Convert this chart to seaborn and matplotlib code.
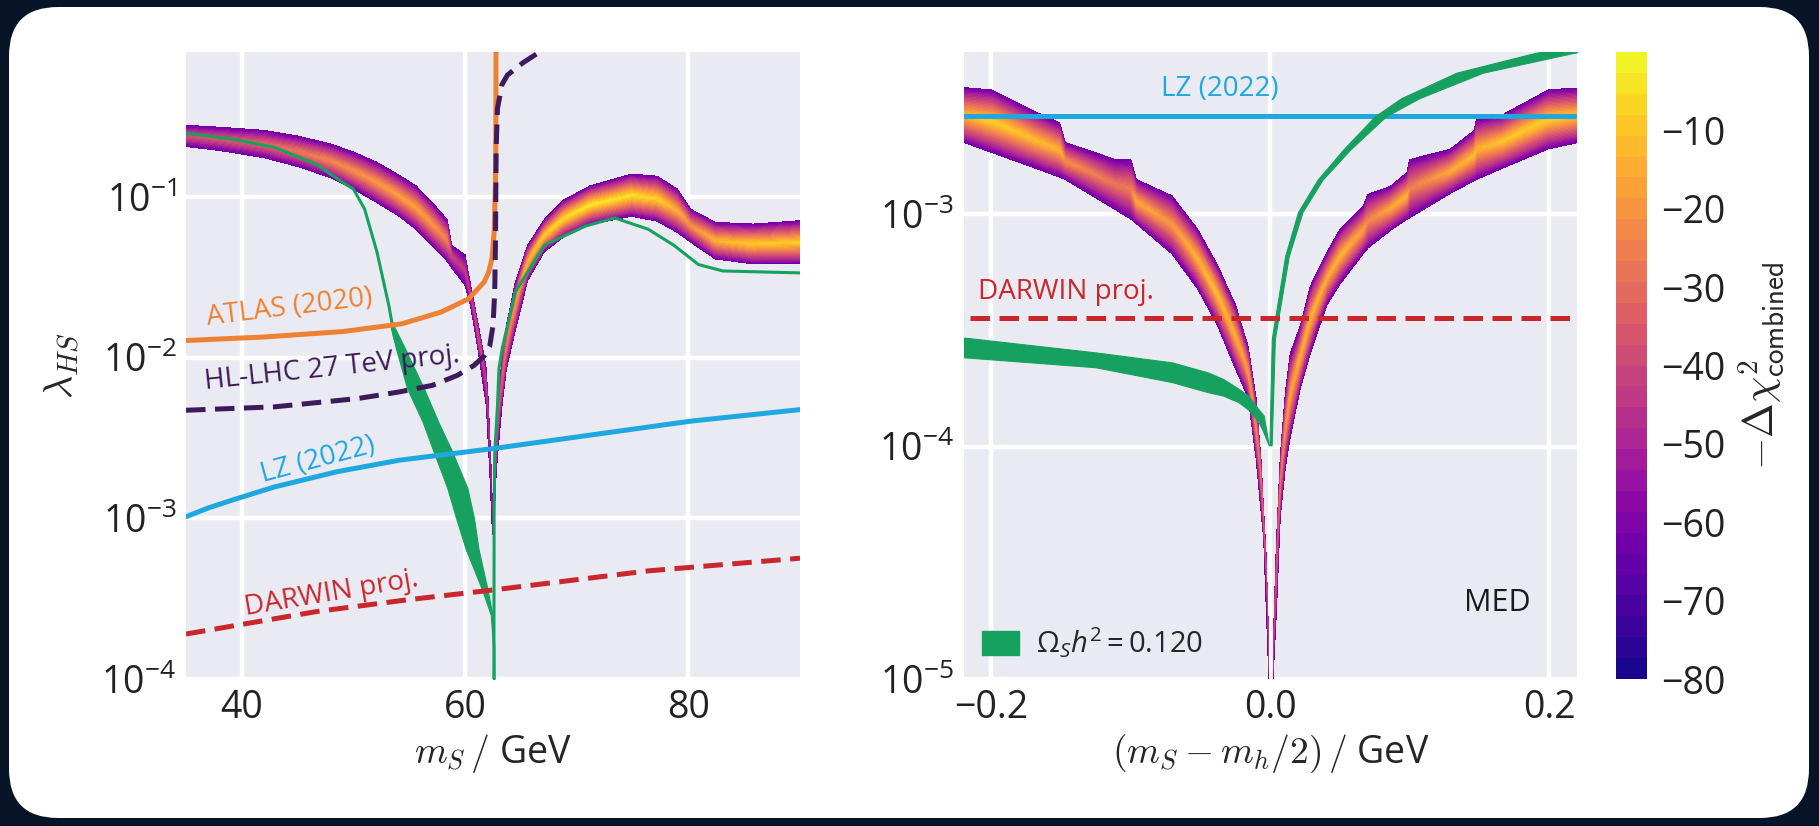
import numpy as np
import matplotlib
matplotlib.use("Agg")
import matplotlib.pyplot as plt
from matplotlib.patches import FancyBboxPatch, Patch
from matplotlib.ticker import LogLocator, NullLocator
import seaborn as sns

# ---------------- data (log10 of lambda_HS where noted) ----------------
# left panel: coloured fit band, below and above the Higgs resonance
bandA_x = [35, 38, 42, 45, 48, 50, 52, 54, 55.6, 57, 58.4, 58.8, 60.0, 60.5, 61.2, 61.9, 62.2, 62.45]
bandA_hi = [-0.553, -0.565, -0.585, -0.62, -0.67, -0.72, -0.78, -0.86, -0.93, -1.03, -1.14, -1.30, -1.36,
            -1.55, -1.80, -2.07, -2.45, -2.95]
bandA_lo = [-0.685, -0.71, -0.755, -0.81, -0.88, -0.95, -1.03, -1.115, -1.20, -1.30, -1.40, -1.44, -1.55,
            -1.68, -1.97, -2.30, -2.70, -3.10]
bandA_peak = [-38, -36, -32, -28, -24, -22, -20, -18, -18, -20, -25, -42, -45, -45, -40, -45, -50, -55]

bandB_x = [62.55, 62.8, 63.3, 63.7, 64.5, 65.6, 67.1, 68.8, 71.2, 74.9, 77.2, 79.0, 80.2, 82.4, 85.8, 90.0]
bandB_hi = [-2.95, -2.5, -2.0, -1.80, -1.53, -1.30, -1.14, -1.02, -0.93, -0.857, -0.87, -0.95, -1.075,
            -1.157, -1.168, -1.147]
bandB_lo = [-3.10, -2.7, -2.3, -2.07, -1.83, -1.52, -1.34, -1.25, -1.17, -1.12, -1.15, -1.22, -1.28,
            -1.385, -1.416, -1.416]
bandB_peak = [-50, -45, -35, -28, -22, -14, -9, -6, -4, -5, -8, -15, -22, -14, -9, -9]

# left panel: relic density (thin line, thick sliver, line right of resonance)
relicL_x = [35, 39.2, 42.9, 46.65, 49.26, 50.0, 51.0, 52.1, 53.17, 53.7]
relicL_y = [-0.602, -0.64, -0.69, -0.795, -0.919, -0.95, -1.075, -1.34, -1.675, -1.88]
sliver_y = [-1.80, -1.94, -2.19, -2.40, -2.57, -2.81, -3.00, -3.19, -3.44, -3.60, -3.80, -4.05]
sliver_xl = [53.3, 53.8, 54.8, 56.2, 57.1, 58.4, 59.2, 60.05, 61.5, 62.3, 62.5, 62.52]
sliver_xr = [53.6, 54.6, 56.3, 57.6, 58.75, 60.2, 60.8, 61.2, 62.0, 62.45, 62.62, 62.64]
relicR_x = [62.58, 62.6, 62.65, 62.9, 63.03, 63.33, 64.5, 67.1, 70.8, 73.4, 76.4, 78.7, 80.9, 83.1, 90.0]
relicR_y = [-4.05, -3.0, -2.6, -2.3, -2.07, -1.94, -1.59, -1.30, -1.18, -1.13, -1.20, -1.30, -1.42, -1.46, -1.472]

# left panel: experimental limits
atlas_x = [35, 42.0, 49.06, 54.33, 57.85, 60.3, 61.7, 62.1, 62.4, 62.6, 62.72, 62.75, 62.76, 62.77]
atlas_y = [-1.893, -1.871, -1.837, -1.789, -1.716, -1.634, -1.53, -1.47, -1.385, -1.22, -0.91, -0.70, -0.4, 0.0]
hllhc_x = [35, 42.9, 50.4, 54.1, 57.07, 59.3, 60.8, 61.7, 62.2, 62.5, 62.65, 62.72, 62.75, 62.78, 62.9,
           63.3, 63.8, 65.2, 66.6, 68.0]
hllhc_y = [-2.327, -2.306, -2.254, -2.213, -2.172, -2.11, -2.048, -1.99, -1.93, -1.80, -1.6, -1.3, -1.0,
           -0.7, -0.45, -0.3, -0.24, -0.163, -0.10, -0.05]
lz_x = [35, 37.0, 39.2, 42.9, 48.5, 54.1, 62.6, 69.0, 80.2, 90.0]
lz_y = [-2.99, -2.935, -2.885, -2.805, -2.71, -2.638, -2.565, -2.503, -2.395, -2.323]
darwin_x = [35, 46.7, 54.84, 62.6, 76.4, 90.0]
darwin_y = [-3.72, -3.58, -3.507, -3.445, -3.327, -3.248]

# right panel: fit band, both sides of m_h/2
bandC_x = [-0.22, -0.20, -0.169, -0.151, -0.147, -0.111, -0.100, -0.096, -0.0705, -0.0521, -0.0377,
           -0.0249, -0.0158, -0.0102, -0.0047, -0.001]
bandC_hi = [-2.454, -2.464, -2.557, -2.606, -2.69, -2.764, -2.764, -2.85, -2.92, -3.064, -3.22, -3.39,
            -3.57, -3.79, -4.27, -4.87]
bandC_lo = [-2.69, -2.733, -2.80, -2.84, -2.85, -2.98, -3.02, -3.04, -3.17, -3.32, -3.48, -3.665, -3.79,
            -4.05, -4.40, -5.0]
bandC_peak = [-12, -8, -12, -14, -22, -28, -26, -16, -20, -14, -12, -15, -20, -25, -35, -45]

bandD_x = [0.002, 0.0045, 0.0072, 0.0108, 0.0143, 0.0215, 0.0287, 0.0406, 0.050, 0.0666, 0.070, 0.086,
           0.098, 0.100, 0.129, 0.146, 0.148, 0.167, 0.1995, 0.22]
bandD_hi = [-4.9, -4.4, -4.04, -3.77, -3.6, -3.48, -3.31, -3.164, -3.064, -2.965, -2.914, -2.88, -2.82,
            -2.764, -2.72, -2.64, -2.59, -2.57, -2.464, -2.456]
bandD_lo = [-5.0, -4.7, -4.3, -4.09, -3.96, -3.75, -3.60, -3.39, -3.30, -3.17, -3.145, -3.07, -3.021,
            -3.015, -2.91, -2.856, -2.85, -2.80, -2.718, -2.692]
bandD_peak = [-45, -38, -30, -22, -18, -15, -14, -16, -14, -18, -24, -16, -14, -26, -16, -12, -14, -10,
              -8, -10]

# right panel: relic density
relicC_x = [-0.22, -0.1254, -0.0705, -0.0449, -0.0339, -0.0229, -0.0158, -0.0083, -0.0047, -0.0011]
relicC_hi = [-3.53, -3.594, -3.637, -3.68, -3.708, -3.75, -3.78, -3.84, -3.866, -3.994]
relicC_lo = [-3.615, -3.658, -3.722, -3.765, -3.78, -3.808, -3.84, -3.894, -3.94, -3.994]
relicD_y = [-3.994, -3.536, -3.179, -2.99, -2.85, -2.72, -2.578, -2.50, -2.39, -2.306, -2.25]
relicD_xl = [-0.0006, 0.0011, 0.0107, 0.0199, 0.0340, 0.0525, 0.075, 0.0939, 0.1335, 0.1893, 0.234]
relicD_xr = [0.0010, 0.0033, 0.0133, 0.0231, 0.0376, 0.0575, 0.083, 0.1069, 0.1525, 0.2167, 0.266]

lz_right = -2.578
darwin_right = -3.448

cbar_ticks = [-10, -20, -30, -40, -50, -60, -70, -80]

# ---------------- style ----------------
sns.set_theme(style="darkgrid", rc={"grid.linewidth": 3.2, "axes.facecolor": "#EAEAF2"})
plt.rcParams["font.family"] = ["Open Sans", "DejaVu Sans"]
plt.rcParams["mathtext.fontset"] = "custom"
plt.rcParams["mathtext.rm"] = "Open Sans"
plt.rcParams["mathtext.it"] = "Open Sans:italic"
plt.rcParams["mathtext.bf"] = "Open Sans:bold"
plt.rcParams["mathtext.fallback"] = "cm"
plt.rcParams["lines.dashed_pattern"] = (3.9, 1.9)

ORANGE = "#EE8133"
PURPLE = "#3d1a5b"
CYAN = "#1ea8df"
RED = "#c9272b"
GREEN = "#17a161"
LEVELS = np.linspace(-80, 0, 31)
EDGE = -64
t = np.linspace(0, 1, 41)


def L(v):
    return 10 ** np.asarray(v, dtype=float)


def draw_band(ax, x, lo, hi, peak):
    x, lo, hi, peak = map(np.asarray, (x, lo, hi, peak))
    X = np.tile(x, (len(t), 1))
    logY = lo[None, :] + t[:, None] * (hi - lo)[None, :]
    shape = 1 - np.abs(2 * t - 1) ** 1.1
    Z = EDGE + (peak - EDGE)[None, :] * shape[:, None]
    return ax.contourf(X, 10 ** logY, Z, levels=LEVELS, cmap="plasma", zorder=1)


def line(ax, x, y, color, dashed=False, lw=3.6):
    sns.lineplot(x=x, y=L(y), ax=ax, color=color, lw=lw, sort=False, estimator=None,
                 linestyle="--" if dashed else "-", zorder=4, legend=False)


W, H = 1819, 826
fig = plt.figure(figsize=(W / 100, H / 100), dpi=100, facecolor="#071326")
card = FancyBboxPatch((9 / W, 8 / H), 1800 / W, 811 / H, boxstyle="round,pad=0,rounding_size=0.027",
                      transform=fig.transFigure, facecolor="white", edgecolor="none",
                      mutation_aspect=W / H, zorder=-1)
fig.add_artist(card)

ax1 = fig.add_axes([186 / W, 1 - 679 / H, 614 / W, 627 / H])
ax2 = fig.add_axes([963.5 / W, 1 - 679 / H, 613.5 / W, 627 / H])
cax = fig.add_axes([1616 / W, 1 - 679 / H, 31 / W, 627 / H])

for ax in (ax1, ax2):
    ax.set_yscale("log")

# ---- left panel ----
cs = draw_band(ax1, bandA_x, bandA_lo, bandA_hi, bandA_peak)
draw_band(ax1, bandB_x, bandB_lo, bandB_hi, bandB_peak)
ax1.plot(relicL_x, L(relicL_y), color=GREEN, lw=2.2, zorder=3)
ax1.fill_betweenx(L(sliver_y), sliver_xl, sliver_xr, color=GREEN, lw=0.8, zorder=3)
ax1.plot(relicR_x, L(relicR_y), color=GREEN, lw=2.2, zorder=3)
line(ax1, atlas_x, atlas_y, ORANGE)
line(ax1, hllhc_x, hllhc_y, PURPLE, dashed=True)
line(ax1, lz_x, lz_y, CYAN)
line(ax1, darwin_x, darwin_y, RED, dashed=True)

txt = dict(fontsize=20, ha="center", va="center", zorder=5)
ax1.text(44.3, L(-1.69), "ATLAS (2020)", color=ORANGE, rotation=7, **txt)
ax1.text(48.1, L(-2.07), "HL-LHC 27 TeV proj.", color=PURPLE, rotation=6, **txt)
ax1.text(46.8, L(-2.64), "LZ (2022)", color=CYAN, rotation=15, **txt)
ax1.text(48.0, L(-3.47), "DARWIN proj.", color=RED, rotation=9.5, **txt)

ax1.set_xlim(35, 90)
ax1.set_ylim(1e-4, 0.8)
ax1.set_xticks([40, 60, 80])
ax1.set_xlabel(r"$m_S\,/$ GeV", fontsize=27, math_fontfamily="cm")
ax1.set_ylabel(r"$\lambda_{HS}$", fontsize=29, math_fontfamily="cm")
ax1.xaxis.set_label_coords(0.5, -0.085)
ax1.yaxis.set_label_coords(-0.168, 0.5)

# ---- right panel ----
draw_band(ax2, bandC_x, bandC_lo, bandC_hi, bandC_peak)
draw_band(ax2, bandD_x, bandD_lo, bandD_hi, bandD_peak)
ax2.fill_between(relicC_x, L(relicC_lo), L(relicC_hi), color=GREEN, lw=0.8, zorder=3)
ax2.fill_betweenx(L(relicD_y), relicD_xl, relicD_xr, color=GREEN, lw=0.8, zorder=3)
ax2.axhline(L(lz_right), color=CYAN, lw=3.6, zorder=2.5)
ax2.plot([-0.215, 0.22], [L(darwin_right)] * 2, color=RED, lw=3.6, ls="--", zorder=4)
ax2.text(-0.036, L(-2.459), "LZ (2022)", color=CYAN, **txt)
ax2.text(-0.2095, L(-3.335), "DARWIN proj.", color=RED, fontsize=20, ha="left", va="center")
ax2.text(0.925, 0.121, "MED", transform=ax2.transAxes, fontsize=22, ha="right", va="center",
         color="#1a1a1a")
ax2.legend(handles=[Patch(color=GREEN, label=r"$\Omega_S h^2 = 0.120$")], loc="lower left",
           frameon=False, fontsize=21, handlelength=1.25, handleheight=0.85, handletextpad=0.6,
           borderaxespad=0.25, bbox_to_anchor=(0.0, 0.0))
ax2.set_xlim(-0.22, 0.22)
ax2.set_ylim(1e-5, 5e-3)
ax2.set_xticks([-0.2, 0.0, 0.2])
ax2.set_xlabel(r"$(m_S - m_h/2)\,/$ GeV", fontsize=27, math_fontfamily="cm")
ax2.xaxis.set_label_coords(0.5, -0.085)

for ax in (ax1, ax2):
    ax.yaxis.set_major_locator(LogLocator(base=10, numticks=12))
    ax.yaxis.set_minor_locator(NullLocator())
    ax.tick_params(labelsize=27, pad=7, length=0, colors="#222222")
    for s in ax.spines.values():
        s.set_visible(False)

# ---- colorbar ----
cbar = fig.colorbar(cs, cax=cax, ticks=cbar_ticks)
cbar.outline.set_visible(False)
cbar.ax.grid(False)
cbar.ax.tick_params(labelsize=27, length=0, pad=10, colors="#222222")
cbar.set_label(r"$-\Delta\chi^2_{\mathsf{combined}}$", fontsize=30, math_fontfamily="cm", labelpad=8)

fig.savefig("out.png", dpi=100, facecolor=fig.get_facecolor())
